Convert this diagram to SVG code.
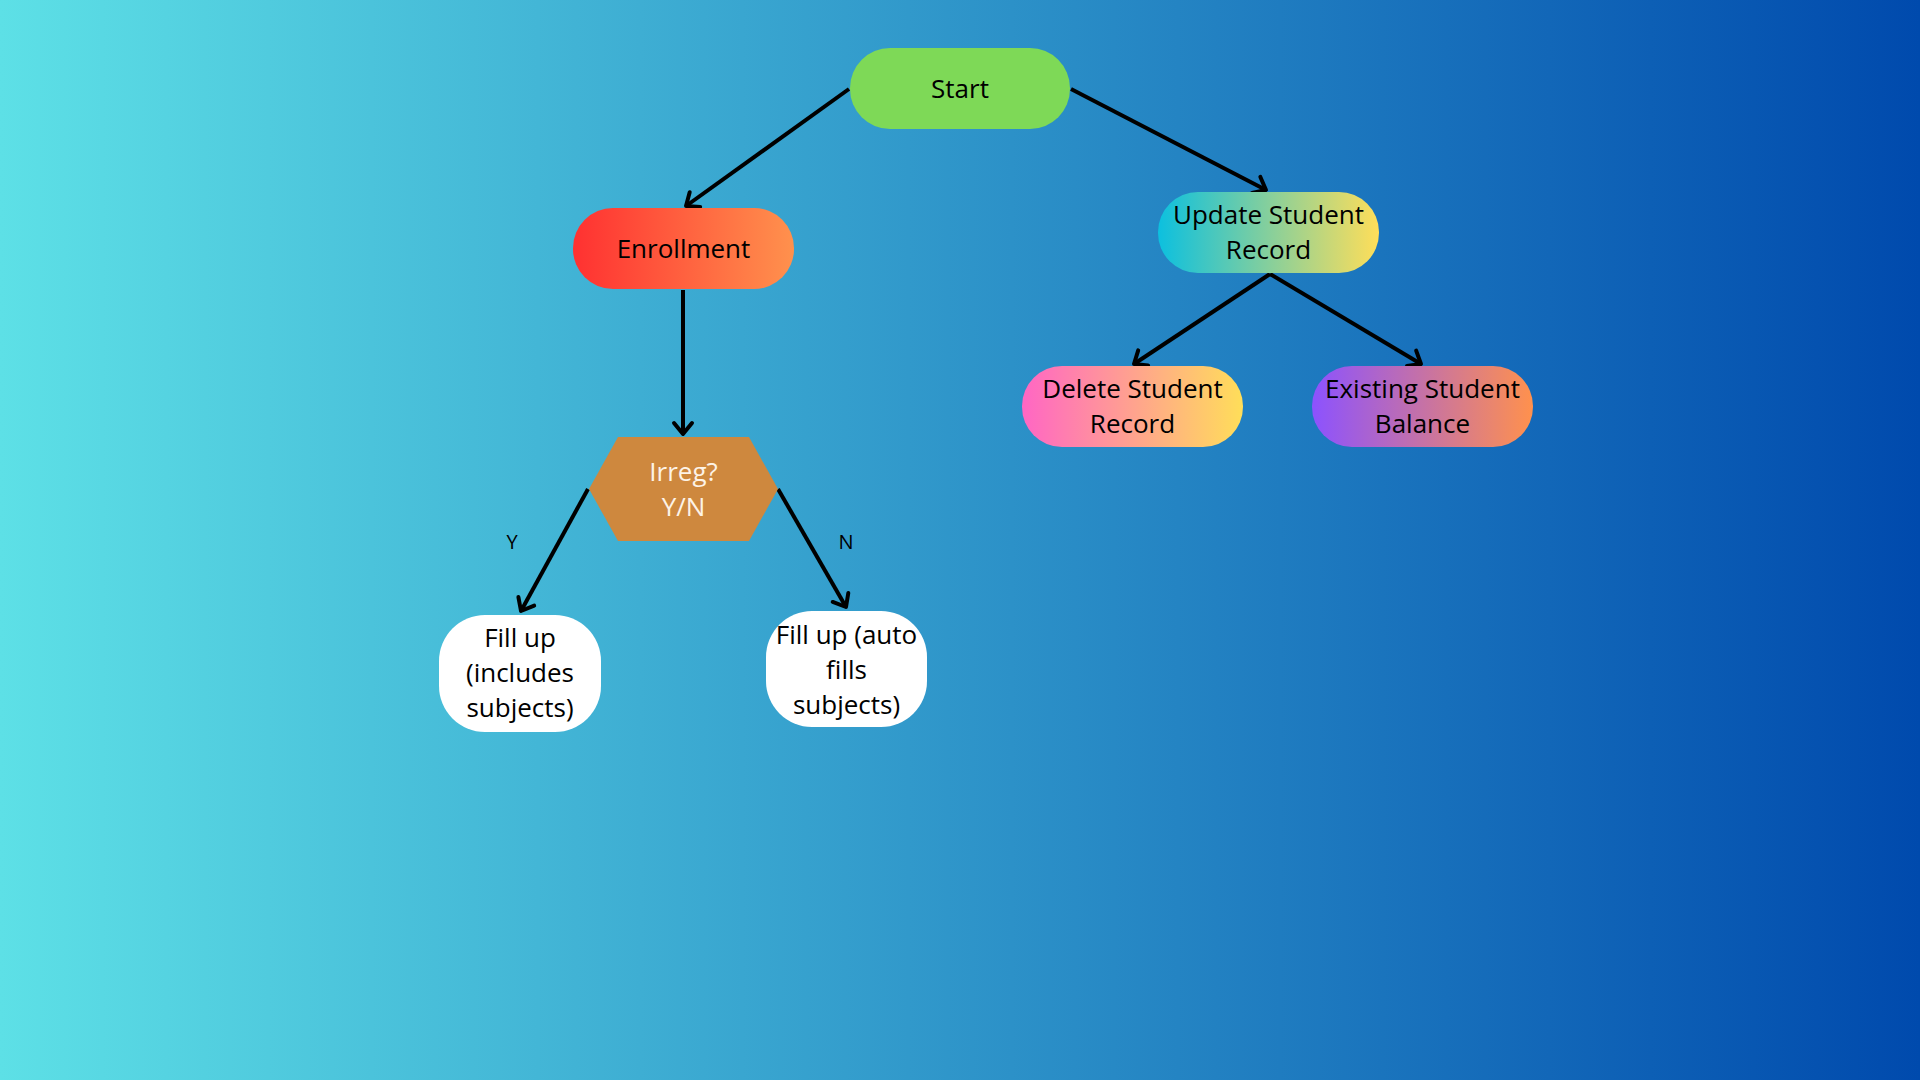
<svg xmlns="http://www.w3.org/2000/svg" width="1920" height="1080" viewBox="0 0 1920 1080">
  <defs>
    <linearGradient id="bg" x1="0" y1="0" x2="1" y2="0">
      <stop offset="0" stop-color="#5de0e6"/>
      <stop offset="1" stop-color="#004aad"/>
    </linearGradient>
    <linearGradient id="gEnroll" x1="0" y1="0" x2="1" y2="0">
      <stop offset="0" stop-color="#ff3131"/>
      <stop offset="1" stop-color="#ff914d"/>
    </linearGradient>
    <linearGradient id="gUpdate" x1="0" y1="0" x2="1" y2="0">
      <stop offset="0" stop-color="#0cc0df"/>
      <stop offset="1" stop-color="#ffde59"/>
    </linearGradient>
    <linearGradient id="gDelete" x1="0" y1="0" x2="1" y2="0">
      <stop offset="0" stop-color="#ff66c4"/>
      <stop offset="1" stop-color="#ffde59"/>
    </linearGradient>
    <linearGradient id="gBalance" x1="0" y1="0" x2="1" y2="0">
      <stop offset="0" stop-color="#8c52ff"/>
      <stop offset="1" stop-color="#ff914d"/>
    </linearGradient>
    <marker id="arrow" markerUnits="userSpaceOnUse" markerWidth="30" markerHeight="30" refX="0" refY="0" viewBox="-15 -15 30 30" orient="auto" overflow="visible">
      <path d="M-11,-9 L0,0 L-11,9" fill="none" stroke="#000" stroke-width="4" stroke-linecap="round" stroke-linejoin="round"/>
    </marker>
    <style>
      .lbl { font-family: "Open Sans", "Liberation Sans", sans-serif; font-size: 26px; fill: #000; text-anchor: middle; }
      .light { fill: #fdf3e7; }
      .small { font-family: "Open Sans", "Liberation Sans", sans-serif; font-size: 20px; fill: #000; text-anchor: middle; }
      .edge { fill: none; stroke: #000; stroke-width: 4; marker-end: url(#arrow); }
    </style>
  </defs>

  <rect x="0" y="0" width="1920" height="1080" fill="url(#bg)"/>

  <!-- connectors -->
  <g id="connectors">
    <line class="edge" x1="849" y1="89" x2="686" y2="206"/>
    <line class="edge" x1="1071" y1="89" x2="1266" y2="190"/>
    <line class="edge" x1="683" y1="290" x2="683" y2="434"/>
    <line class="edge" x1="1270" y1="274" x2="1134" y2="364"/>
    <line class="edge" x1="1270" y1="274" x2="1421" y2="364"/>
    <line class="edge" x1="588" y1="489" x2="521" y2="611"/>
    <line class="edge" x1="778" y1="489" x2="846" y2="607"/>
    <text class="small" x="512" y="549">Y</text>
    <text class="small" x="846" y="549">N</text>
  </g>

  <g id="start">
    <rect x="850" y="48" width="220" height="81" rx="40" ry="40" fill="#7ed957"/>
    <text class="lbl" x="960" y="98">Start</text>
  </g>

  <g id="enrollment">
    <rect x="573" y="208" width="221" height="81" rx="40" ry="40" fill="url(#gEnroll)"/>
    <text class="lbl" x="683.5" y="258">Enrollment</text>
  </g>

  <g id="update-record">
    <rect x="1158" y="192" width="221" height="81" rx="40" ry="40" fill="url(#gUpdate)"/>
    <text class="lbl" x="1268.5" y="224">Update Student</text>
    <text class="lbl" x="1268.5" y="259">Record</text>
  </g>

  <g id="delete-record">
    <rect x="1022" y="366" width="221" height="81" rx="40" ry="40" fill="url(#gDelete)"/>
    <text class="lbl" x="1132.5" y="398">Delete Student</text>
    <text class="lbl" x="1132.5" y="433">Record</text>
  </g>

  <g id="student-balance">
    <rect x="1312" y="366" width="221" height="81" rx="40" ry="40" fill="url(#gBalance)"/>
    <text class="lbl" x="1422.5" y="398">Existing Student</text>
    <text class="lbl" x="1422.5" y="433">Balance</text>
  </g>

  <g id="irregular-check">
    <polygon points="589,489 618,437 749,437 778,489 749,541 618,541" fill="#ce883e"/>
    <text class="lbl light" x="683.5" y="481">Irreg?</text>
    <text class="lbl light" x="683.5" y="516">Y/N</text>
  </g>

  <g id="fill-irregular">
    <rect x="439" y="615" width="162" height="117" rx="46" ry="46" fill="#fff"/>
    <text class="lbl" x="520" y="647">Fill up</text>
    <text class="lbl" x="520" y="682">(includes</text>
    <text class="lbl" x="520" y="717">subjects)</text>
  </g>

  <g id="fill-regular">
    <rect x="766" y="611" width="161" height="116" rx="46" ry="46" fill="#fff"/>
    <text class="lbl" x="846.5" y="644">Fill up (auto</text>
    <text class="lbl" x="846.5" y="679">fills</text>
    <text class="lbl" x="846.5" y="714">subjects)</text>
  </g>
</svg>
